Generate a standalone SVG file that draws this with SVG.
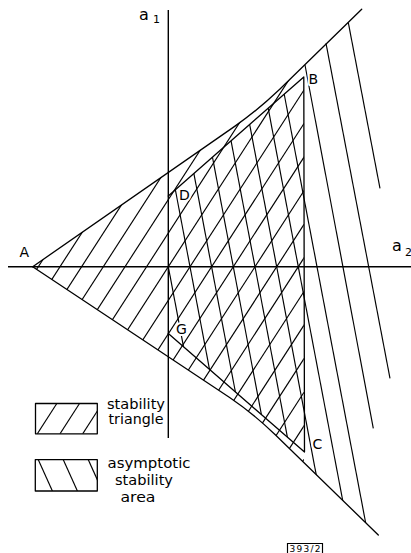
<svg xmlns="http://www.w3.org/2000/svg" width="411" height="553" viewBox="0 0 411 553">
<style>
.ln{stroke:#000;stroke-width:1.3;fill:none;stroke-linecap:round;stroke-linejoin:round}
.ax{stroke:#000;stroke-width:1.4;fill:none}
.h{stroke:#000;stroke-width:1.15;fill:none}
.t{font-family:"DejaVu Sans","Liberation Sans",sans-serif;fill:#000}
.lbl{font-size:14px;stroke:#fff;stroke-width:4;paint-order:stroke;stroke-linejoin:round}
.leg{font-size:14px}
</style>
<defs>
<clipPath id="triClip"><path d="M32.7,266.7 L235,126.1 Q258,110 280,89 L303.8,66.2 L303.8,462.5 L275,434.5 Q252.3,412.8 230,397.7 Z"/></clipPath>
<clipPath id="asyClip"><path d="M168.3,196 L303.8,77 L303.8,66.2 L361.7,9.3 L411,0 L411,553 L378.3,535 L303.8,462.5 L304.5,452 L168.3,333.5 Z"/></clipPath>
<clipPath id="box1"><rect x="35.5" y="403.5" width="61.8" height="30.3"/></clipPath>
<clipPath id="box2"><rect x="35.3" y="459.7" width="62" height="31.3"/></clipPath>
</defs>

<g id="hatch-stability-triangle" clip-path="url(#triClip)">
<line class="h" x1="210.4" y1="0" x2="-146.4" y2="553"/>
<line class="h" x1="232.1" y1="0" x2="-124.7" y2="553"/>
<line class="h" x1="253.7" y1="0" x2="-103.1" y2="553"/>
<line class="h" x1="275.4" y1="0" x2="-81.4" y2="553"/>
<line class="h" x1="297.1" y1="0" x2="-59.7" y2="553"/>
<line class="h" x1="318.7" y1="0" x2="-38.1" y2="553"/>
<line class="h" x1="340.4" y1="0" x2="-16.4" y2="553"/>
<line class="h" x1="362.1" y1="0" x2="5.3" y2="553"/>
<line class="h" x1="383.7" y1="0" x2="26.9" y2="553"/>
<line class="h" x1="405.4" y1="0" x2="48.6" y2="553"/>
<line class="h" x1="427.1" y1="0" x2="70.3" y2="553"/>
<line class="h" x1="448.8" y1="0" x2="92.0" y2="553"/>
<line class="h" x1="470.4" y1="0" x2="113.6" y2="553"/>
<line class="h" x1="492.1" y1="0" x2="135.3" y2="553"/>
<line class="h" x1="513.8" y1="0" x2="157.0" y2="553"/>
<line class="h" x1="535.4" y1="0" x2="178.6" y2="553"/>
<line class="h" x1="557.1" y1="0" x2="200.3" y2="553"/>
<line class="h" x1="578.8" y1="0" x2="222.0" y2="553"/>
<line class="h" x1="600.4" y1="0" x2="243.6" y2="553"/>
<line class="h" x1="622.1" y1="0" x2="265.3" y2="553"/>
</g>

<g id="hatch-asymptotic-area">
<g clip-path="url(#asyClip)">
<line class="h" x1="117.6" y1="0" x2="222.7" y2="553"/>
<line class="h" x1="139.3" y1="0" x2="244.4" y2="553"/>
<line class="h" x1="160.9" y1="0" x2="266.0" y2="553"/>
<line class="h" x1="182.6" y1="0" x2="287.7" y2="553"/>
<line class="h" x1="204.3" y1="0" x2="309.4" y2="553"/>
<line class="h" x1="226.0" y1="0" x2="331.1" y2="553"/>
<line class="h" x1="247.6" y1="0" x2="352.7" y2="553"/>
<line class="h" x1="266.3" y1="0" x2="371.4" y2="553"/>
</g>
<line class="h" x1="305" y1="65" x2="373.3" y2="428.3"/>
<line class="h" x1="326" y1="43.3" x2="390" y2="378.3"/>
<line class="h" x1="348.3" y1="22.7" x2="380" y2="188.3"/>
</g>

<g id="axes">
<line class="ax" x1="168.3" y1="10" x2="168.3" y2="438"/>
<line class="ax" x1="8" y1="266.7" x2="411" y2="266.7"/>
<text class="t" x="139" y="19.5" font-size="16">a</text>
<text class="t" x="153" y="23" font-size="11">1</text>
<text class="t" x="392" y="251" font-size="16">a</text>
<text class="t" x="405" y="256" font-size="11">2</text>
</g>

<g id="boundaries">
<path class="ln" d="M32.7,266.7 L235,126.1 Q258,110 280,89 L361.7,9.3"/>
<path class="ln" d="M32.7,266.7 L230,397.7 Q252.3,412.8 275,434.5 L378.3,535"/>
<path class="ln" d="M168.3,196 L303.8,77 L304.5,452 L168.3,333.5"/>
</g>

<g id="point-labels">
<text class="t lbl" x="19.5" y="256.5">A</text>
<text class="t lbl" x="308.5" y="83.5">B</text>
<text class="t lbl" x="312.5" y="448.5">C</text>
<text class="t lbl" x="179" y="200">D</text>
<text class="t lbl" x="176" y="333.5">G</text>
</g>

<g id="legend">
<g id="legend-stability-triangle">
<g clip-path="url(#box1)">
<line class="h" x1="37.3" y1="433.8" x2="56.8" y2="403.5"/>
<line class="h" x1="60" y1="433.8" x2="79.5" y2="403.5"/>
<line class="h" x1="82.7" y1="433.8" x2="102.2" y2="403.5"/>
</g>
<rect class="ln" x="35.5" y="403.5" width="61.8" height="30.3"/>
<text class="t leg" x="107" y="409" textLength="58" lengthAdjust="spacingAndGlyphs">stability</text>
<text class="t leg" x="108.5" y="423.5" textLength="55" lengthAdjust="spacingAndGlyphs">triangle</text>
</g>
<g id="legend-asymptotic-area">
<g clip-path="url(#box2)">
<line class="h" x1="38.3" y1="459.7" x2="52.4" y2="491"/>
<line class="h" x1="63.3" y1="459.7" x2="77.4" y2="491"/>
<line class="h" x1="88.3" y1="459.7" x2="102.4" y2="491"/>
</g>
<rect class="ln" x="35.3" y="459.7" width="62" height="31.3"/>
<text class="t leg" x="107.5" y="467.5" textLength="83" lengthAdjust="spacingAndGlyphs">asymptotic</text>
<text class="t leg" x="115" y="485" textLength="58" lengthAdjust="spacingAndGlyphs">stability</text>
<text class="t leg" x="120.5" y="501.5" textLength="35" lengthAdjust="spacingAndGlyphs">area</text>
</g>
</g>

<g id="figure-number">
<path class="h" d="M287.5,553 L287.5,543.5 L322.5,543.5 L322.5,553"/>
<text class="t" x="289.5" y="552" font-size="9" textLength="31" lengthAdjust="spacing">393/2</text>
</g>
</svg>
